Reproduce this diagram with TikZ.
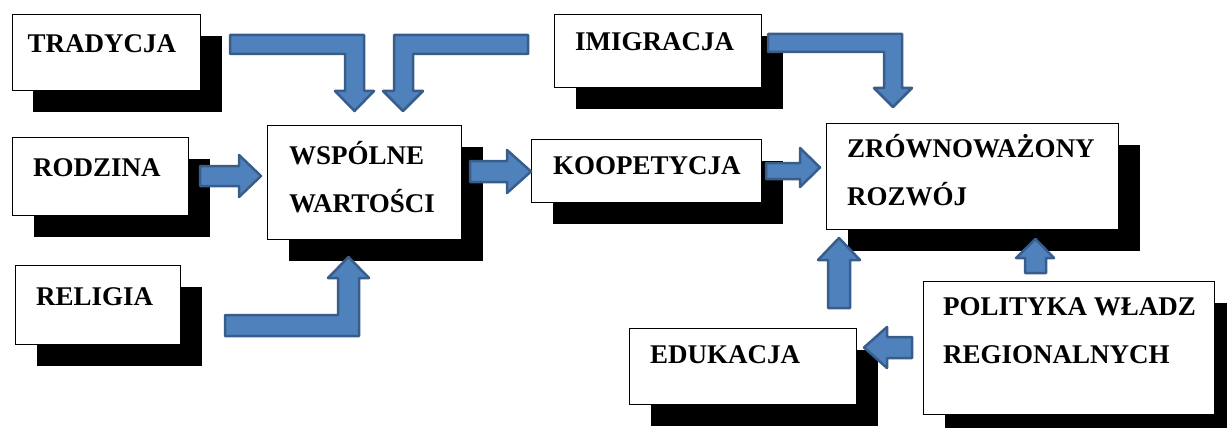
\documentclass[tikz,border=0pt]{standalone}
\usepackage{fontspec}
\setmainfont{Liberation Serif}
\usetikzlibrary{shadows}
\definecolor{arrowfill}{RGB}{79,129,189}
\definecolor{arrowline}{RGB}{56,93,138}
\tikzset{
  box/.style={draw=black, line width=0.9pt, fill=white, rectangle, inner sep=0pt, anchor=north west,
    drop shadow={shadow xshift=21.5pt, shadow yshift=-21.5pt, fill=black, opacity=1}},
  lbl/.style={inner sep=0pt, anchor=base west, align=left, font=\fontsize{27}{48}\selectfont\bfseries},
  blockarrow/.style={fill=arrowfill, draw=arrowline, line width=2.5pt, line join=round},
}
\begin{document}
\begin{tikzpicture}[x=1pt, y=-1pt]
\useasboundingbox (0,0) rectangle (1227,428);
% boxes
\node[box, minimum width=188.5pt, minimum height=75.5pt] (trad) at (11.5,14.5) {};
\node[box, minimum width=207pt, minimum height=73pt] (imig) at (554,14) {};
\node[box, minimum width=176pt, minimum height=78pt] (rodz) at (12,137) {};
\node[box, minimum width=194pt, minimum height=114pt] (wsp) at (267,125) {};
\node[box, minimum width=165pt, minimum height=79pt] (rel) at (15,265) {};
\node[box, minimum width=230pt, minimum height=63pt] (koop) at (531,139) {};
\node[box, minimum width=292pt, minimum height=106pt] (zr) at (826,123) {};
\node[box, minimum width=227pt, minimum height=76pt] (edu) at (629,328) {};
\node[box, minimum width=291pt, minimum height=133pt] (pol) at (923,281) {};
% labels (multi-line labels are anchored at the baseline of their last line)
\node[lbl] (tradt) at (27.5,53) {TRADYCJA};
\node[lbl] (imigt) at (575,51) {IMIGRACJA};
\node[lbl] (rodzt) at (33,176) {RODZINA};
\node[lbl] (wspt) at (289,212) {WSPÓLNE\\WARTOŚCI};
\node[lbl] (relt) at (36,305) {RELIGIA};
\node[lbl] (koopt) at (553,174) {KOOPETYCJA};
\node[lbl] (zrt) at (847,205) {ZRÓWNOWAŻONY\\ROZWÓJ};
\node[lbl] (polt) at (943,363) {POLITYKA WŁADZ\\REGIONALNYCH};
\node[lbl] (edut) at (650,363) {EDUKACJA};
% block arrows
% tradycja -> wspolne
\draw[blockarrow] (230,35) -- (364,35) -- (364,91) -- (374,91) -- (354.5,111) -- (335,91) -- (345,91) -- (345,54) -- (230,54) -- cycle;
% imigracja side -> wspolne
\draw[blockarrow] (528,35) -- (394,35) -- (394,91) -- (383,91) -- (403,111) -- (423,91) -- (413,91) -- (413,54) -- (528,54) -- cycle;
% imigracja -> zrownowazony
\draw[blockarrow] (768,34) -- (902,34) -- (902,88) -- (912,88) -- (893,107) -- (874,88) -- (884,88) -- (884,52) -- (768,52) -- cycle;
% rodzina -> wspolne
\draw[blockarrow] (200,166) -- (239,166) -- (239,155) -- (261,176) -- (239,197) -- (239,186) -- (200,186) -- cycle;
% wspolne -> koopetycja
\draw[blockarrow] (470,161) -- (507,161) -- (507,150) -- (531,171.5) -- (507,193) -- (507,182) -- (470,182) -- cycle;
% religia -> wspolne
\draw[blockarrow] (225,315) -- (338,315) -- (338,278) -- (328,278) -- (348.5,257) -- (369,278) -- (359,278) -- (359,336) -- (225,336) -- cycle;
% koopetycja -> zrownowazony
\draw[blockarrow] (766,163) -- (800,163) -- (800,148) -- (820,167.5) -- (800,187) -- (800,179) -- (766,179) -- cycle;
% edukacja -> zrownowazony
\draw[blockarrow] (828,308) -- (828,260) -- (818,260) -- (839,238) -- (860,260) -- (850,260) -- (850,308) -- cycle;
% polityka -> zrownowazony
\draw[blockarrow] (1025,273) -- (1025,258) -- (1016,258) -- (1035.5,239) -- (1054,258) -- (1046,258) -- (1046,273) -- cycle;
% polityka -> edukacja
\draw[blockarrow] (912,337) -- (887,337) -- (887,327) -- (864,347.5) -- (887,368) -- (887,358) -- (912,358) -- cycle;
\end{tikzpicture}
\end{document}
